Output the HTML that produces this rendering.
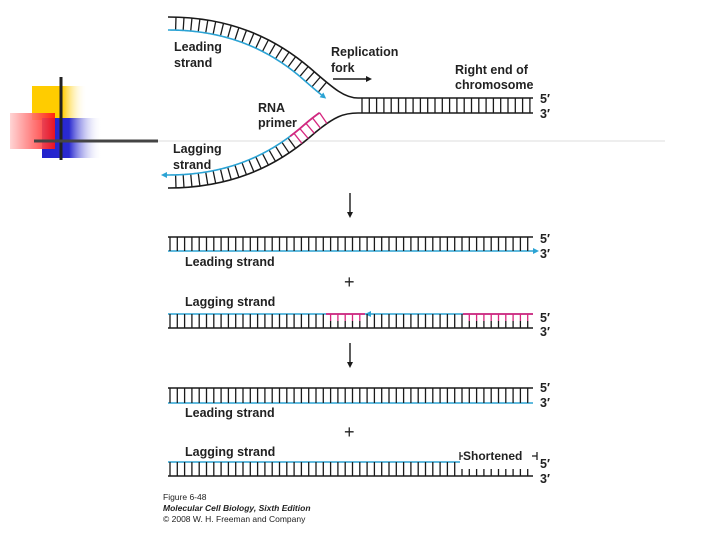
<!DOCTYPE html>
<html><head><meta charset="utf-8"><style>
html,body{margin:0;padding:0;background:#fff;width:720px;height:540px;overflow:hidden;position:relative}
svg{position:absolute;left:0;top:0}
text{font-family:"Liberation Sans",sans-serif;font-weight:bold;fill:#222}
</style></head><body>
<svg id="s" width="720" height="540" viewBox="0 0 720 540">
<defs>
<linearGradient id="gy" x1="0" x2="1"><stop offset="0" stop-color="#ffcc00"/><stop offset="0.55" stop-color="#ffcc00"/><stop offset="1" stop-color="#fff" stop-opacity="0"/></linearGradient>
<linearGradient id="gb" x1="0" x2="1"><stop offset="0" stop-color="#2222cc"/><stop offset="0.45" stop-color="#2a2ad0"/><stop offset="1" stop-color="#fff" stop-opacity="0"/></linearGradient>
<linearGradient id="gr" x1="0" x2="1"><stop offset="0" stop-color="#ffd0d0"/><stop offset="1" stop-color="#ff1010"/></linearGradient>
</defs>
<rect x="32" y="86" width="55" height="34" fill="url(#gy)"/>
<rect x="42" y="118" width="60" height="40" fill="url(#gb)"/>
<rect x="10" y="113" width="45" height="36" fill="url(#gr)" opacity="0.9"/>
<line x1="61" y1="77" x2="61" y2="160" stroke="#222" stroke-width="3"/>
<line x1="34" y1="141" x2="158" y2="141" stroke="#444" stroke-width="3"/>
<line x1="158" y1="141" x2="665" y2="141" stroke="#eee" stroke-width="2"/>
<g id="g" fill="none" stroke-width="1.6"></g>
<g font-size="12.5">
<text x="174" y="51">Leading</text><text x="174" y="67">strand</text>
<text x="331" y="56">Replication</text><text x="331" y="72">fork</text>
<text x="455" y="74">Right end of</text><text x="455" y="89">chromosome</text>
<text x="258" y="112">RNA</text><text x="258" y="127">primer</text>
<text x="173" y="153">Lagging</text><text x="173" y="169">strand</text>
<text x="185" y="266">Leading strand</text>
<text x="185" y="306">Lagging strand</text>
<text x="185" y="417">Leading strand</text>
<text x="185" y="456">Lagging strand</text>
<text x="463" y="460" font-size="12">Shortened</text>
</g>
<g font-size="12.5">
<text x="540" y="103">5′</text><text x="540" y="118">3′</text>
<text x="540" y="243">5′</text><text x="540" y="258">3′</text>
<text x="540" y="322">5′</text><text x="540" y="336">3′</text>
<text x="540" y="392">5′</text><text x="540" y="407">3′</text>
<text x="540" y="468">5′</text><text x="540" y="483">3′</text>
</g>
<g font-size="18"><text x="344" y="288" style="font-weight:normal">+</text><text x="344" y="438" style="font-weight:normal">+</text></g>
<g stroke="#222" stroke-width="1.3">
<line x1="460" y1="452" x2="460" y2="460"/><line x1="460" y1="456" x2="463" y2="456"/>
<line x1="537" y1="452" x2="537" y2="460"/><line x1="532" y1="456" x2="537" y2="456"/>
</g>
<g font-size="8.5">
<text x="163" y="500" style="font-weight:normal">Figure 6-48</text>
<text x="163" y="511" style="font-style:italic">Molecular Cell Biology, Sixth Edition</text>
<text x="163" y="522" style="font-weight:normal">© 2008 W. H. Freeman and Company</text>
</g>
</svg>
<script>
var NS="http://www.w3.org/2000/svg",g=document.getElementById('g');
function el(t,a){var e=document.createElementNS(NS,t);for(var k in a)e.setAttribute(k,a[k]);g.appendChild(e);return e;}
function line(x1,y1,x2,y2,c,w){el('line',{x1:x1,y1:y1,x2:x2,y2:y2,stroke:c,'stroke-width':w||1.6});}
function tri(x,y,dx,dy,c){var px=-dy,py=dx;el('polygon',{points:(x+dx*6)+','+(y+dy*6)+' '+(x+px*3)+','+(y+py*3)+' '+(x-px*3)+','+(y-py*3),fill:c});}
var K='#1a1a1a',C='#2ba3d4',M='#d6267e';
var bu='M168,17 C230,17 275,38 310,68 C335,90 345,98 358,98';
var bl='M168,188 C230,188 275,167 310,137 C335,115 345,113 358,113';
function fork(d,sign,xend,magFrom){
 var p=el('path',{d:d,stroke:K}),L=p.getTotalLength(),pts=[],mpts=[],last=null,dirv=null;
 for(var s=0;s<=L;s+=1){var a=p.getPointAtLength(s),b=p.getPointAtLength(Math.min(L,s+1));
  var tx=b.x-a.x,ty=b.y-a.y,n=Math.hypot(tx,ty)||1;tx/=n;ty/=n;
  var nx=sign>0?-ty:ty,ny=sign>0?tx:-tx;
  var q={x:a.x+nx*13,y:a.y+ny*13};if(q.x>xend)break;
  pts.push(q.x+','+q.y);if(q.x>=magFrom)mpts.push(q.x+','+q.y);
  if(Math.round(s)%8==0&&s>0){var isM=q.x>=magFrom;line(a.x,a.y,q.x,q.y,isM?M:K,1.3);}
  last=q;dirv=[tx,ty];}
 el('polyline',{points:pts.join(' '),stroke:C,'stroke-width':1.6,fill:'none'});
 if(mpts.length)el('polyline',{points:mpts.join(' '),stroke:M,'stroke-width':1.8,fill:'none'});
 return {first:pts[0].split(',').map(Number),last:last,dir:dirv};
}
var u=fork(bu,1,322,9999);
tri(u.last.x,u.last.y,u.dir[0],u.dir[1],C);
var l=fork(bl,-1,320,290);
line(l.first[0]-2,l.first[1],l.first[0],l.first[1],C);
tri(l.first[0]-1,l.first[1],-1,0,C);
line(358,98,533,98,K);line(358,113,533,113,K);
for(var x=362;x<533;x+=7.3)line(x,98,x,113,K,1.3);
line(333,79,366,79,K,1.4);tri(366,79,1,0,K);
line(350,193,350,214,K,1.4);tri(350,212,0,1,K);
line(350,343,350,364,K,1.4);tri(350,362,0,1,K);
line(168,237,533,237,K);line(168,251,533,251,C);tri(533,251,1,0,C);
for(var x=170;x<533;x+=7.3)line(x,237,x,251,K,1.3);
line(168,314,533,314,C);line(168,328,533,328,K);
line(326,314,365,314,M,1.8);line(463,314,533,314,M,1.8);tri(371,314,-1,0,C);
for(var x=170;x<533;x+=7.3){var c=(x>326&&x<366)||(x>463)?M:K;line(x,314,x,321,c,1.3);line(x,321,x,328,K,1.3);}
line(168,388,533,388,K);line(168,403,533,403,C);
for(var x=170;x<533;x+=7.3)line(x,388,x,403,K,1.3);
line(168,462,460,462,C);line(168,476,533,476,K);
for(var x=170;x<533;x+=7.3){if(x<460)line(x,462,x,476,K,1.3);else line(x,469,x,476,K,1.3);}
</script>
</body></html>
